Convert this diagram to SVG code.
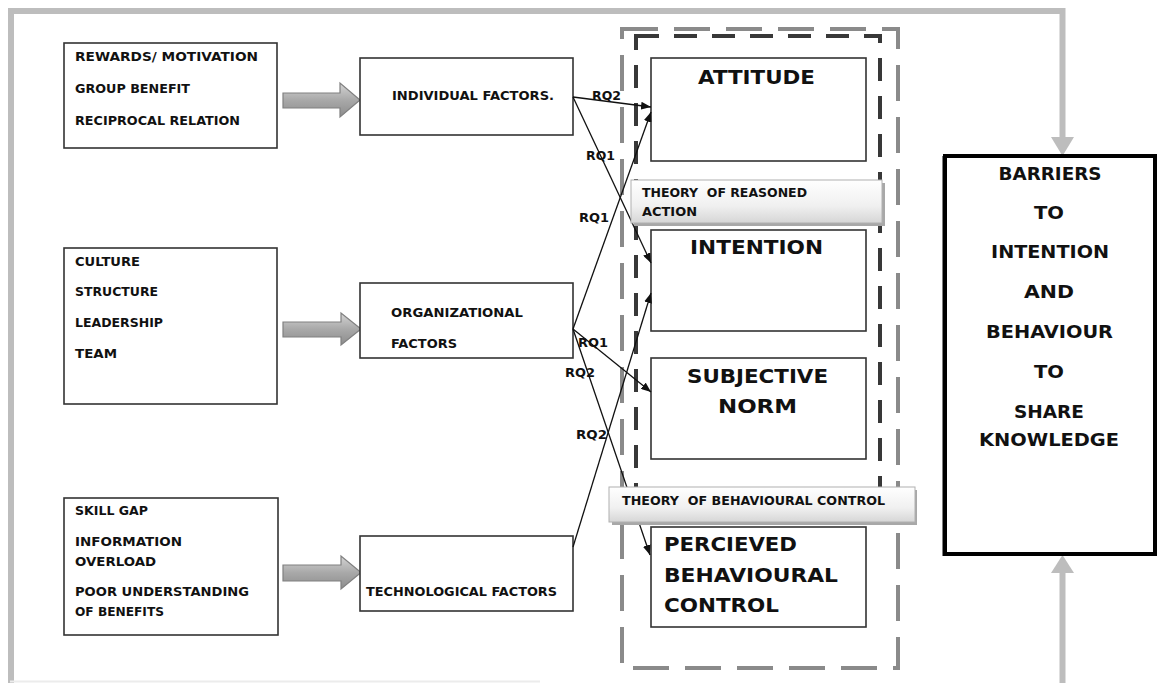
<svg xmlns="http://www.w3.org/2000/svg" width="1157" height="683" viewBox="0 0 1157 683">
  <defs>
    <style>
      .box { fill: #ffffff; stroke: #333333; stroke-width: 1.6; }
      .t { font-family: "DejaVu Sans", "Liberation Sans", sans-serif; font-weight: bold; fill: #111111; }
      .s13 { font-size: 13px; }
      .big { font-size: 20px; }
      .bar { font-size: 17px; }
      .rq { font-size: 12px; }
      .th { font-size: 12.3px; }
      .conn { stroke: #111111; stroke-width: 1.3; fill: none; marker-end: url(#ah); }
      .frame { stroke: #bdbdbd; stroke-width: 6; fill: none; }
      .blk { fill: url(#blockGrad); stroke: #808080; stroke-width: 1.2; }
      .banner { fill: url(#bannerGrad); stroke: #b0b0b0; stroke-width: 1; }
      .shadow { fill: #a8a8a8; }
    </style>
    <linearGradient id="blockGrad" x1="0" y1="0" x2="0" y2="1">
      <stop offset="0" stop-color="#d4d4d4"/>
      <stop offset="0.5" stop-color="#a9a9a9"/>
      <stop offset="1" stop-color="#8c8c8c"/>
    </linearGradient>
    <linearGradient id="bannerGrad" x1="0" y1="0" x2="0" y2="1">
      <stop offset="0" stop-color="#ffffff"/>
      <stop offset="0.6" stop-color="#f0f0f0"/>
      <stop offset="1" stop-color="#d6d6d6"/>
    </linearGradient>
    <marker id="ah" markerUnits="userSpaceOnUse" markerWidth="10" markerHeight="8" refX="10" refY="4" orient="auto">
      <path d="M0,0 L10,4 L0,8 Z" fill="#111111"/>
    </marker>
    <marker id="grayHead" markerUnits="userSpaceOnUse" markerWidth="24" markerHeight="20" refX="18" refY="11.5" orient="auto">
      <path d="M0,0 L18,11.5 L0,23 Z" fill="#bdbdbd"/>
    </marker>
  </defs>

  <!-- outer frame and feedback arrows -->
  <g id="frame">
    <path class="frame" d="M11,683 L11,11 L1062.5,11 L1062.5,138"/>
    <path d="M1051,137 L1074,137 L1062.5,156 Z" fill="#bdbdbd"/>
    <path class="frame" d="M1062.5,683 L1062.5,572"/>
    <path d="M1051,573 L1074,573 L1062.5,555 Z" fill="#bdbdbd"/>
    <line x1="10" y1="681.5" x2="540" y2="681.5" stroke="#ececec" stroke-width="2"/>
  </g>

  <!-- dashed theory frames -->
  <g id="theory-frames">
    <rect x="622" y="29" width="276" height="639" fill="none" stroke="#8a8a8a" stroke-width="4" stroke-dasharray="36 16"/>
    <rect x="636" y="36" width="244" height="466" fill="none" stroke="#383838" stroke-width="4" stroke-dasharray="23 15"/>
  </g>

  <!-- left input boxes -->
  <g id="individual-inputs">
    <rect class="box" x="64" y="43" width="213" height="105"/>
    <text class="t s13" x="75" y="61" textLength="183" lengthAdjust="spacingAndGlyphs">REWARDS/ MOTIVATION</text>
    <text class="t s13" x="75" y="93" textLength="115" lengthAdjust="spacingAndGlyphs">GROUP BENEFIT</text>
    <text class="t s13" x="75" y="125" textLength="165" lengthAdjust="spacingAndGlyphs">RECIPROCAL RELATION</text>
  </g>
  <g id="organizational-inputs">
    <rect class="box" x="64" y="248" width="213" height="156"/>
    <text class="t s13" x="75" y="266" textLength="65" lengthAdjust="spacingAndGlyphs">CULTURE</text>
    <text class="t s13" x="75" y="296" textLength="83" lengthAdjust="spacingAndGlyphs">STRUCTURE</text>
    <text class="t s13" x="75" y="327" textLength="88" lengthAdjust="spacingAndGlyphs">LEADERSHIP</text>
    <text class="t s13" x="75" y="358" textLength="42" lengthAdjust="spacingAndGlyphs">TEAM</text>
  </g>
  <g id="technological-inputs">
    <rect class="box" x="64" y="498" width="214" height="137"/>
    <text class="t s13" x="75" y="515" textLength="73" lengthAdjust="spacingAndGlyphs">SKILL GAP</text>
    <text class="t s13" x="75" y="546" textLength="107" lengthAdjust="spacingAndGlyphs">INFORMATION</text>
    <text class="t s13" x="75" y="566" textLength="81" lengthAdjust="spacingAndGlyphs">OVERLOAD</text>
    <text class="t s13" x="75" y="596" textLength="174" lengthAdjust="spacingAndGlyphs">POOR UNDERSTANDING</text>
    <text class="t s13" x="75" y="616" textLength="89" lengthAdjust="spacingAndGlyphs">OF BENEFITS</text>
  </g>

  <!-- block arrows -->
  <g id="block-arrows">
    <path class="blk" d="M283,93 L340,93 L340,83 L360,100 L340,117 L340,108 L283,108 Z"/>
    <path class="blk" d="M283,322 L341,322 L341,313 L361,329 L341,345 L341,337 L283,337 Z"/>
    <path class="blk" d="M283,565 L341,565 L341,556 L361,572.5 L341,589 L341,581 L283,581 Z"/>
  </g>

  <!-- factor boxes -->
  <g id="individual-factors">
    <rect class="box" x="360" y="58" width="213" height="77"/>
    <text class="t s13" x="392" y="100" textLength="162" lengthAdjust="spacingAndGlyphs">INDIVIDUAL FACTORS.</text>
  </g>
  <g id="organizational-factors">
    <rect class="box" x="360" y="283" width="213" height="75"/>
    <text class="t s13" x="391" y="317" textLength="132" lengthAdjust="spacingAndGlyphs">ORGANIZATIONAL</text>
    <text class="t s13" x="391" y="348" textLength="66" lengthAdjust="spacingAndGlyphs">FACTORS</text>
  </g>
  <g id="technological-factors">
    <rect class="box" x="360" y="536" width="213" height="75"/>
    <text class="t s13" x="366" y="596" textLength="191" lengthAdjust="spacingAndGlyphs">TECHNOLOGICAL FACTORS</text>
  </g>

  <!-- theory constructs -->
  <g id="attitude">
    <rect class="box" x="651" y="58" width="215" height="103"/>
    <text class="t big" x="698" y="84" textLength="117" lengthAdjust="spacingAndGlyphs">ATTITUDE</text>
  </g>
  <g id="intention">
    <rect class="box" x="651" y="230" width="215" height="101"/>
    <text class="t big" x="690" y="254" textLength="133" lengthAdjust="spacingAndGlyphs">INTENTION</text>
  </g>
  <g id="subjective-norm">
    <rect class="box" x="651" y="358" width="215" height="101"/>
    <text class="t big" x="687" y="383" textLength="141" lengthAdjust="spacingAndGlyphs">SUBJECTIVE</text>
    <text class="t big" x="718" y="413" textLength="79" lengthAdjust="spacingAndGlyphs">NORM</text>
  </g>
  <g id="perceived-behavioural-control">
    <rect class="box" x="651" y="527" width="215" height="100"/>
    <text class="t big" x="664" y="551" textLength="133" lengthAdjust="spacingAndGlyphs">PERCIEVED</text>
    <text class="t big" x="664" y="582" textLength="174" lengthAdjust="spacingAndGlyphs">BEHAVIOURAL</text>
    <text class="t big" x="664" y="612" textLength="115" lengthAdjust="spacingAndGlyphs">CONTROL</text>
  </g>

  <!-- connectors -->
  <g id="connectors">
    <line class="conn" x1="573" y1="97" x2="651" y2="107"/>
    <line class="conn" x1="573" y1="97" x2="651" y2="263"/>
    <line class="conn" x1="573" y1="329" x2="651" y2="112"/>
    <line class="conn" x1="573" y1="329" x2="651" y2="392"/>
    <line class="conn" x1="573" y1="329" x2="650" y2="555"/>
    <line class="conn" x1="573" y1="547" x2="651" y2="293"/>
    <text class="t rq" x="592" y="100" textLength="29" lengthAdjust="spacingAndGlyphs">RQ2</text>
    <text class="t rq" x="586" y="160" textLength="29" lengthAdjust="spacingAndGlyphs">RQ1</text>
    <text class="t rq" x="579" y="222" textLength="30" lengthAdjust="spacingAndGlyphs">RQ1</text>
    <text class="t rq" x="578" y="347" textLength="30" lengthAdjust="spacingAndGlyphs">RQ1</text>
    <text class="t rq" x="565" y="377" textLength="30" lengthAdjust="spacingAndGlyphs">RQ2</text>
    <text class="t rq" x="576" y="439" textLength="31" lengthAdjust="spacingAndGlyphs">RQ2</text>
  </g>

  <!-- theory banners -->
  <g id="theory-reasoned-action">
    <rect class="shadow" x="634" y="183" width="251" height="43"/>
    <rect class="banner" x="631" y="180" width="251" height="43"/>
    <text class="t th" x="642" y="197" textLength="165" lengthAdjust="spacingAndGlyphs" xml:space="preserve">THEORY  OF REASONED</text>
    <text class="t th" x="642" y="216" textLength="55" lengthAdjust="spacingAndGlyphs">ACTION</text>
  </g>
  <g id="theory-behavioural-control">
    <rect class="shadow" x="612" y="490" width="305" height="35"/>
    <rect class="banner" x="609" y="487" width="306" height="35"/>
    <text class="t th" x="622" y="505" textLength="263" lengthAdjust="spacingAndGlyphs" xml:space="preserve">THEORY  OF BEHAVIOURAL CONTROL</text>
  </g>

  <!-- outcome box -->
  <g id="barriers">
    <rect x="945" y="156" width="210" height="398" fill="#ffffff" stroke="#000000" stroke-width="4"/>
    <line x1="943.5" y1="156" x2="943.5" y2="556" stroke="#000000" stroke-width="2"/>
    <text class="t bar" x="1050" y="180" text-anchor="middle" textLength="103" lengthAdjust="spacingAndGlyphs">BARRIERS</text>
    <text class="t bar" x="1049" y="219" text-anchor="middle" textLength="30" lengthAdjust="spacingAndGlyphs">TO</text>
    <text class="t bar" x="1050" y="258" text-anchor="middle" textLength="118" lengthAdjust="spacingAndGlyphs">INTENTION</text>
    <text class="t bar" x="1049" y="298" text-anchor="middle" textLength="50" lengthAdjust="spacingAndGlyphs">AND</text>
    <text class="t bar" x="1049.5" y="338" text-anchor="middle" textLength="127" lengthAdjust="spacingAndGlyphs">BEHAVIOUR</text>
    <text class="t bar" x="1049" y="378" text-anchor="middle" textLength="30" lengthAdjust="spacingAndGlyphs">TO</text>
    <text class="t bar" x="1049" y="418" text-anchor="middle" textLength="70" lengthAdjust="spacingAndGlyphs">SHARE</text>
    <text class="t bar" x="1049" y="446" text-anchor="middle" textLength="140" lengthAdjust="spacingAndGlyphs">KNOWLEDGE</text>
  </g>
</svg>
